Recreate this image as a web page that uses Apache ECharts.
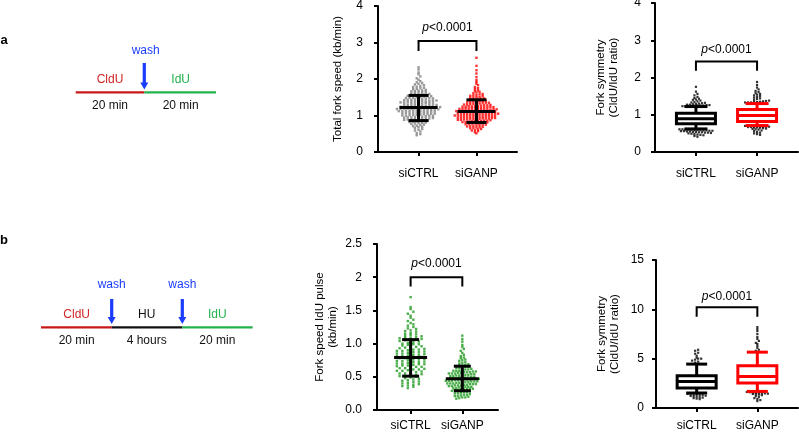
<!DOCTYPE html>
<html>
<head>
<meta charset="utf-8">
<script src="https://cdn.jsdelivr.net/npm/echarts@6/dist/echarts.min.js"></script>
<style>
  html, body { margin: 0; padding: 0; background: #fff; }
  #chart { width: 799px; height: 432px; }
</style>
</head>
<body>
<div id="chart"></div>
<script>
// ---- data ----
const categories = ['siCTRL', 'siGANP'];
const pText = '{i|p}<0.0001';

// a: total fork speed (kb/min), individual fibres
const speedA_ctrl = [0.46,0.49,0.52,0.56,0.59,0.61,0.63,0.66,0.68,0.69,0.71,0.72,0.74,0.75,0.77,0.78,0.79,
  0.80,0.81,0.82,0.83,0.84,0.85,0.86,0.87,0.88,0.89,0.89,0.90,0.90,0.91,0.92,0.92,0.93,0.94,0.95,0.95,0.96,0.97,0.97,0.98,0.99,0.99,
  1.00,1.00,1.01,1.02,1.02,1.03,1.04,1.04,1.05,1.05,1.06,1.07,1.07,1.08,1.08,1.09,1.09,1.10,
  1.11,1.11,1.12,1.12,1.13,1.13,1.14,1.14,1.15,1.15,1.16,1.16,1.17,1.17,1.18,1.18,1.19,1.19,1.19,
  1.20,1.20,1.21,1.21,1.22,1.22,1.23,1.23,1.24,1.24,1.25,1.25,1.26,1.26,1.27,1.27,1.28,1.28,1.29,
  1.30,1.30,1.31,1.32,1.32,1.33,1.34,1.34,1.35,1.36,1.36,1.37,1.37,1.38,1.38,1.39,1.39,
  1.40,1.41,1.41,1.42,1.43,1.43,1.44,1.45,1.45,1.46,1.47,1.47,1.48,1.49,1.49,
  1.50,1.51,1.52,1.53,1.53,1.54,1.55,1.56,1.57,1.58,1.58,1.59,1.60,1.62,1.63,1.64,1.65,1.66,1.67,1.68,1.69,
  1.70,1.72,1.73,1.75,1.76,1.78,1.79,1.81,1.83,1.85,1.87,1.89,1.91,1.94,1.98,2.02,2.07,2.13,2.18,2.26,2.32];
const speedA_ganp = [0.51,0.54,0.57,0.59,0.60,0.62,0.63,0.65,0.66,0.67,0.68,0.69,
  0.70,0.71,0.72,0.73,0.74,0.75,0.75,0.76,0.77,0.78,0.79,0.79,
  0.80,0.80,0.81,0.82,0.82,0.83,0.84,0.84,0.85,0.85,0.86,0.86,0.87,0.88,0.88,0.89,0.89,
  0.90,0.90,0.91,0.91,0.92,0.92,0.92,0.93,0.93,0.94,0.94,0.95,0.95,0.96,0.96,0.96,0.97,0.97,0.98,0.98,0.99,0.99,
  1.00,1.00,1.00,1.01,1.01,1.02,1.02,1.03,1.03,1.03,1.04,1.04,1.05,1.05,1.05,1.06,1.06,1.07,1.07,1.08,1.08,1.08,1.09,1.09,
  1.10,1.10,1.11,1.11,1.12,1.12,1.12,1.13,1.13,1.14,1.14,1.15,1.15,1.16,1.16,1.16,1.17,1.17,1.18,1.18,1.19,1.19,
  1.20,1.20,1.21,1.21,1.22,1.22,1.23,1.23,1.24,1.24,1.25,1.25,1.26,1.26,1.27,1.28,1.28,1.29,
  1.30,1.30,1.31,1.32,1.32,1.33,1.34,1.35,1.35,1.36,1.37,1.38,1.38,1.39,
  1.40,1.41,1.42,1.43,1.44,1.45,1.46,1.47,1.48,1.49,1.50,1.51,1.53,1.54,1.55,1.56,1.58,1.59,
  1.61,1.63,1.65,1.67,1.69,1.72,1.75,1.78,1.83,1.87,1.92,1.97,2.05,2.15,2.24,2.36,2.58];
// mean, -SD, +SD
const meanSdA = [[1.22, 0.86, 1.55], [1.11, 0.81, 1.43]];

// a: fork symmetry box plots: whisker low, Q1, median, Q3, whisker high
const boxA = [[0.62, 0.76, 0.89, 1.04, 1.22], [0.71, 0.82, 0.98, 1.14, 1.30]];
const outA_ctrl = [1.23,1.23,1.24,1.24,1.24,1.25,1.25,1.25,1.26,1.26,1.27,1.27,1.28,1.29,1.30,1.31,1.32,1.33,1.34,1.36,1.38,1.40,1.41,1.43,1.45,1.48,1.52,1.56,1.62,1.75,
  0.61,0.61,0.60,0.60,0.60,0.59,0.59,0.59,0.58,0.58,0.57,0.57,0.56,0.56,0.55,0.55,0.54,0.54,0.53,0.53,0.52,0.52,0.51,0.50,0.49,0.48,0.47,0.46,0.45,0.43,0.41];
const outA_ganp = [1.31,1.31,1.32,1.32,1.32,1.33,1.33,1.33,1.34,1.34,1.35,1.36,1.37,1.38,1.40,1.42,1.44,1.46,1.48,1.50,1.52,1.54,1.56,1.58,1.61,1.64,1.68,1.73,1.80,1.88,
  0.70,0.70,0.70,0.69,0.69,0.69,0.68,0.68,0.68,0.67,0.67,0.66,0.66,0.65,0.64,0.63,0.62,0.61,0.60,0.58,0.56,0.54,0.52,0.50,0.48,0.46];

// b: fork speed IdU pulse (kb/min)
const speedB_ctrl = [0.33,0.35,0.36,0.37,0.38,0.39,0.40,0.41,0.42,0.43,0.44,0.45,0.46,0.47,0.48,0.49,
  0.50,0.51,0.51,0.52,0.53,0.54,0.55,0.55,0.56,0.57,0.58,0.59,0.59,
  0.60,0.61,0.61,0.62,0.63,0.63,0.64,0.65,0.65,0.66,0.67,0.67,0.68,0.69,0.69,
  0.70,0.70,0.71,0.72,0.72,0.73,0.74,0.74,0.75,0.76,0.76,0.77,0.78,0.78,0.79,0.79,
  0.80,0.81,0.81,0.82,0.83,0.83,0.84,0.85,0.85,0.86,0.87,0.87,0.88,0.89,0.89,
  0.90,0.91,0.91,0.92,0.93,0.94,0.95,0.95,0.96,0.97,0.98,0.99,0.99,
  1.00,1.01,1.02,1.03,1.04,1.05,1.05,1.06,1.07,1.08,1.09,1.09,
  1.10,1.11,1.12,1.13,1.14,1.15,1.16,1.18,1.19,1.20,1.22,1.23,1.25,1.27,1.29,
  1.31,1.34,1.36,1.39,1.42,1.45,1.48,1.52,1.55,1.70];
const speedB_ganp = [0.17,0.18,0.19,0.19,0.20,0.21,0.21,0.22,0.23,0.23,0.24,0.25,0.25,0.26,0.27,0.27,0.28,0.29,
  0.30,0.30,0.31,0.31,0.32,0.32,0.32,0.33,0.33,0.34,0.34,0.35,0.35,0.35,0.36,0.36,0.37,0.37,0.37,0.38,0.38,0.39,0.39,0.39,
  0.40,0.40,0.40,0.41,0.41,0.41,0.42,0.42,0.43,0.43,0.43,0.44,0.44,0.44,0.45,0.45,0.45,0.46,0.46,0.46,0.47,0.47,0.47,0.48,0.48,0.48,0.49,0.49,0.49,0.49,
  0.50,0.50,0.51,0.51,0.52,0.52,0.52,0.53,0.53,0.54,0.54,0.55,0.55,0.55,0.56,0.56,0.57,0.57,0.57,0.58,0.58,0.59,0.59,0.59,
  0.60,0.61,0.61,0.62,0.63,0.63,0.64,0.65,0.65,0.66,0.67,0.67,0.68,0.69,
  0.70,0.71,0.72,0.74,0.75,0.76,0.78,0.79,0.81,0.83,0.86,0.89,0.92,0.95,0.98,1.03,1.07,1.12];
const meanSdB = [[0.79, 0.51, 1.06], [0.47, 0.29, 0.66]];
const speedB_ticks = ['0.0', '0.5', '1.0', '1.5', '2', '2.5'];

// b: fork symmetry box plots
const boxB = [[1.52, 2.02, 2.69, 3.27, 4.45], [1.68, 2.53, 3.20, 4.28, 5.66]];
const outB_ctrl = [4.6,4.7,4.8,4.9,5.0,5.0,5.1,5.3,5.5,5.6,5.8,5.9,
  1.45,1.42,1.40,1.38,1.35,1.32,1.30,1.25,1.22,1.20,1.15,1.10,1.05,1.00,0.95,0.90];
const outB_ganp = [5.8,5.9,6.1,6.3,6.5,6.6,6.8,7.0,7.2,7.5,7.8,8.0,8.2,
  1.62,1.60,1.58,1.55,1.52,1.50,1.48,1.45,1.42,1.40,1.35,1.30,1.20,1.10,1.00,0.90,0.80,0.70];

// significance brackets: x1, x2, bar y, foot y, text y
const bracketA1 = [1, 2, 3.04, 2.77, 3.40];
const bracketA2 = [1, 2, 2.43, 2.18, 2.74];
const bracketB1 = [1, 2, 2.0, 1.86, 2.2];
const bracketB2 = [1, 2, 10.2, 9.26, 11.3];

// ---- layout ----
const FONT = '"Liberation Sans", Arial, sans-serif';
const panels = [
  { grid: { left: 378, top: 6, width: 139, height: 146 }, x: [0.3, 2.7], y: [0, 4], interval: 1,
    name: 'Total fork speed (kb/min)', nameGap: 34, labelMargin: 16, yMargin: 15 },
  { grid: { left: 655, top: 3, width: 143, height: 149 }, x: [0.33, 2.67], y: [0, 4], interval: 1,
    name: 'Fork symmetry\n(CldU/IdU ratio)', nameGap: 35, labelMargin: 16, yMargin: 14 },
  { grid: { left: 377, top: 244, width: 121, height: 166 }, x: [0.35, 2.69], y: [0, 2.5], interval: 0.5,
    name: 'Fork speed IdU pulse\n(kb/min)', nameGap: 38, labelMargin: 10, yMargin: 15,
    fmt: v => speedB_ticks[Math.round(v / 0.5)] },
  { grid: { left: 656, top: 260, width: 142, height: 148 }, x: [0.33, 2.67], y: [0, 15], interval: 5,
    name: 'Fork symmetry\n(CldU/IdU ratio)', nameGap: 35, labelMargin: 12, yMargin: 12 }
];

function pxScale(p) {
  return { xPx: p.grid.width / (p.x[1] - p.x[0]), yPx: p.grid.height / (p.y[1] - p.y[0]) };
}

// GraphPad-like dot layout: bin into pixel rows, spread each row sideways
function swarm(values, cat, p, rowPx, gapPx) {
  const s = pxScale(p);
  const rows = {};
  values.forEach(v => {
    const k = Math.round(v * s.yPx / rowPx);
    (rows[k] = rows[k] || []).push(v);
  });
  const pts = [];
  Object.keys(rows).forEach(k => {
    const r = rows[k];
    r.forEach((v, i) => pts.push([cat + (i - (r.length - 1) / 2) * gapPx / s.xPx, v]));
  });
  return pts;
}

function dots(idx, data, color, size) {
  return {
    type: 'scatter', xAxisIndex: idx, yAxisIndex: idx, data: data,
    symbol: 'rect', symbolSize: size || 2.4, itemStyle: { color: color }, silent: true, z: 2
  };
}

function meanSd(idx, rows, meanHalf, capHalf) {
  return {
    type: 'custom', xAxisIndex: idx, yAxisIndex: idx, z: 5, silent: true,
    data: rows.map((r, i) => [i + 1, r[0], r[1], r[2]]),
    renderItem: function (params, api) {
      const x = api.value(0);
      const m = api.coord([x, api.value(1)]);
      const lo = api.coord([x, api.value(2)]);
      const hi = api.coord([x, api.value(3)]);
      const st = { stroke: '#000', lineWidth: 3 };
      return { type: 'group', children: [
        { type: 'line', shape: { x1: m[0] - meanHalf, y1: m[1], x2: m[0] + meanHalf, y2: m[1] }, style: st },
        { type: 'line', shape: { x1: m[0], y1: lo[1], x2: m[0], y2: hi[1] }, style: st },
        { type: 'line', shape: { x1: m[0] - capHalf, y1: hi[1], x2: m[0] + capHalf, y2: hi[1] }, style: st },
        { type: 'line', shape: { x1: m[0] - capHalf, y1: lo[1], x2: m[0] + capHalf, y2: lo[1] }, style: st }
      ] };
    }
  };
}

const boxColors = ['#000000', '#ff0000'];
function boxes(idx, stats, capHalf) {
  return {
    type: 'custom', xAxisIndex: idx, yAxisIndex: idx, z: 4, silent: true,
    data: stats.map((b, i) => ({ value: [i + 1].concat(b), itemStyle: { color: boxColors[i] } })),
    renderItem: function (params, api) {
      const x = api.value(0);
      const c = api.visual('color');
      const wl = api.coord([x, api.value(1)]), q1 = api.coord([x, api.value(2)]);
      const md = api.coord([x, api.value(3)]), q3 = api.coord([x, api.value(4)]);
      const wh = api.coord([x, api.value(5)]);
      const hw = 19.5, st = { stroke: c, lineWidth: 3 };
      return { type: 'group', children: [
        { type: 'line', shape: { x1: wl[0], y1: wl[1], x2: wl[0], y2: q1[1] }, style: st },
        { type: 'line', shape: { x1: wh[0], y1: wh[1], x2: wh[0], y2: q3[1] }, style: st },
        { type: 'line', shape: { x1: wl[0] - capHalf, y1: wl[1], x2: wl[0] + capHalf, y2: wl[1] }, style: st },
        { type: 'line', shape: { x1: wh[0] - capHalf, y1: wh[1], x2: wh[0] + capHalf, y2: wh[1] }, style: st },
        { type: 'rect', shape: { x: q3[0] - hw, y: q3[1], width: 2 * hw, height: q1[1] - q3[1] },
          style: { fill: '#fff', stroke: c, lineWidth: 3 } },
        { type: 'line', shape: { x1: md[0] - hw, y1: md[1], x2: md[0] + hw, y2: md[1] }, style: st }
      ] };
    }
  };
}

function bracket(idx, b) {
  return {
    type: 'custom', xAxisIndex: idx, yAxisIndex: idx, z: 6, silent: true,
    data: [b],
    renderItem: function (params, api) {
      const x1 = api.value(0), x2 = api.value(1);
      const a = api.coord([x1, api.value(3)]), b1 = api.coord([x1, api.value(2)]);
      const c = api.coord([x2, api.value(2)]), d = api.coord([x2, api.value(3)]);
      const t = api.coord([(x1 + x2) / 2, api.value(4)]);
      return { type: 'group', children: [
        { type: 'polyline', shape: { points: [a, b1, c, d] }, style: { stroke: '#000', lineWidth: 2, fill: null } },
        { type: 'text', x: t[0], y: t[1], style: {
          text: pText, fill: '#000', fontSize: 12, fontFamily: FONT,
          align: 'center', verticalAlign: 'middle', textAlign: 'center', textVerticalAlign: 'middle',
          rich: { i: { fontStyle: 'italic', fontSize: 12, fontFamily: FONT, fill: '#000' } }
        } }
      ] };
    }
  };
}

const axisLine = { show: true, onZero: false, lineStyle: { color: '#000', width: 2 } };
const axisTick = { show: true, inside: false, length: 4, lineStyle: { color: '#000', width: 2 } };

const grids = panels.map(p => Object.assign({ outerBoundsMode: 'none', containLabel: false }, p.grid));
const xAxes = panels.map((p, i) => ({
  type: 'value', gridIndex: i, min: p.x[0], max: p.x[1],
  axisLine: axisLine, splitLine: { show: false },
  axisTick: Object.assign({ customValues: [1, 2] }, axisTick),
  axisLabel: { customValues: [1, 2], formatter: v => categories[Math.round(v) - 1] || '',
    color: '#000', fontSize: 12, fontFamily: FONT, margin: p.labelMargin }
}));
const yAxes = panels.map((p, i) => ({
  type: 'value', gridIndex: i, min: p.y[0], max: p.y[1], interval: p.interval,
  axisLine: axisLine, axisTick: axisTick, splitLine: { show: false },
  axisLabel: { color: '#000', fontSize: 12, fontFamily: FONT, margin: p.yMargin,
    formatter: p.fmt || (v => String(v)) },
  name: p.name, nameLocation: 'middle', nameRotate: 90, nameGap: p.nameGap,
  nameTextStyle: { color: '#000', fontSize: 11.5, fontFamily: FONT, lineHeight: 12.5 }
}));

const series = [
  dots(0, swarm(speedA_ctrl, 1, panels[0], 2.2, 3.6), '#7f7f7f'),
  dots(0, swarm(speedA_ganp, 2, panels[0], 2.2, 3.1), '#ff0000'),
  meanSd(0, meanSdA, 19, 10),
  bracket(0, bracketA1),
  boxes(1, boxA, 11.5),
  dots(1, swarm(outA_ctrl, 1, panels[1], 2.2, 3.0), '#000', 2.2),
  dots(1, swarm(outA_ganp, 2, panels[1], 2.2, 3.0), '#000', 2.2),
  bracket(1, bracketA2),
  dots(2, swarm(speedB_ctrl, 1, panels[2], 2.5, 5.5), '#1f9a1f'),
  dots(2, swarm(speedB_ganp, 2, panels[2], 2.5, 3.0), '#1f9a1f'),
  meanSd(2, meanSdB, 16.5, 8.5),
  bracket(2, bracketB1),
  boxes(3, boxB, 10.5),
  dots(3, swarm(outB_ctrl, 1, panels[3], 2.2, 3.0), '#000', 2.2),
  dots(3, swarm(outB_ganp, 2, panels[3], 2.2, 3.0), '#000', 2.2),
  bracket(3, bracketB2)
];

// ---- schematics on the left ----
const RED = '#d02525', GREEN = '#22b24c', BLUE = '#1a3cff';
function txt(x, y, s, color, extra) {
  return { type: 'text', x: x, y: y, style: Object.assign({ text: s, fill: color, fontSize: 12, fontFamily: FONT,
    textAlign: 'center', textVerticalAlign: 'middle' }, extra || {}) };
}
function seg(x1, x2, y, color) {
  return { type: 'line', shape: { x1: x1, y1: y, x2: x2, y2: y }, style: { stroke: color, lineWidth: 2.2 } };
}
function arrow(x, y1, y2) {
  return { type: 'polygon', shape: { points: [[x - 1.6, y1], [x + 1.6, y1], [x + 1.6, y2 - 7], [x + 4, y2 - 7],
    [x, y2], [x - 4, y2 - 7], [x - 1.6, y2 - 7]] }, style: { fill: BLUE } };
}
const graphics = [
  txt(4, 40, 'a', '#000', { fontWeight: 'bold', fontSize: 13 }),
  txt(145.7, 51, 'wash', BLUE),
  arrow(144.3, 63, 89.5),
  txt(110, 80, 'CldU', RED),
  txt(180.7, 80, 'IdU', GREEN),
  seg(75.7, 144.3, 92.3, '#c81818'),
  seg(144.3, 216, 92.3, GREEN),
  txt(110, 106, '20 min', '#111'),
  txt(180.7, 106, '20 min', '#111'),

  txt(4, 240, 'b', '#000', { fontWeight: 'bold', fontSize: 13 }),
  txt(111.7, 285, 'wash', BLUE),
  txt(182.3, 285, 'wash', BLUE),
  arrow(111.7, 299, 324),
  arrow(182.3, 299, 324),
  txt(76.7, 314.3, 'CldU', RED),
  txt(146.7, 314.3, 'HU', '#111'),
  txt(217.3, 314.3, 'IdU', GREEN),
  seg(41, 111.7, 327.3, '#c81818'),
  seg(111.7, 182.3, 327.3, '#111'),
  seg(182.3, 252.7, 327.3, GREEN),
  txt(76.7, 341, '20 min', '#111'),
  txt(146.7, 341, '4 hours', '#111'),
  txt(217.3, 341, '20 min', '#111')
];

const chart = echarts.init(document.getElementById('chart'), null, { renderer: 'canvas' });
chart.setOption({
  animation: false,
  backgroundColor: '#fff',
  grid: grids,
  xAxis: xAxes,
  yAxis: yAxes,
  series: series,
  graphic: { elements: graphics }
});
</script>
</body>
</html>
